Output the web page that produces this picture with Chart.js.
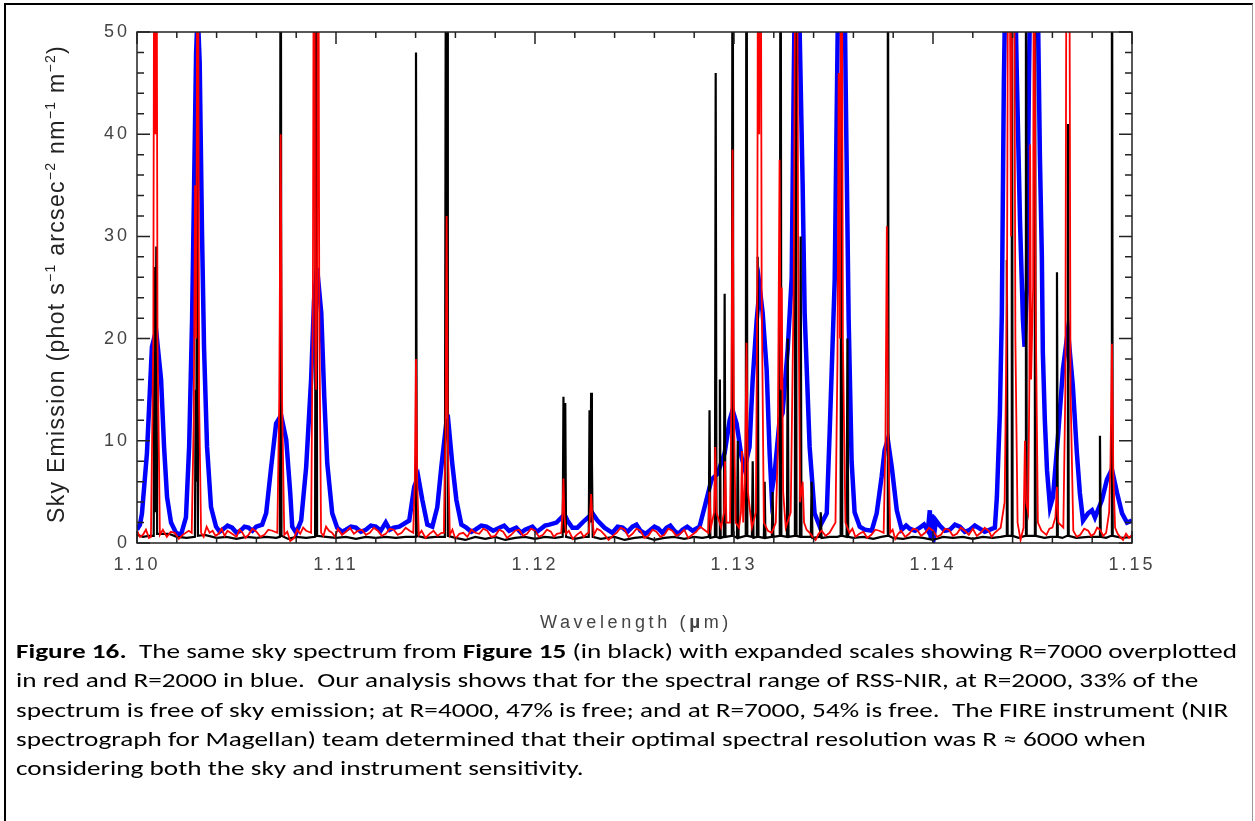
<!DOCTYPE html>
<html><head><meta charset="utf-8">
<script src="https://cdn.jsdelivr.net/npm/chart.js@4.4.1/dist/chart.umd.min.js"></script>
<style>
html,body{margin:0;padding:0;background:#fff;width:1255px;height:821px;overflow:hidden;position:relative}
#c{position:absolute;left:0;top:0}
#frame{position:absolute;left:4px;top:3px;width:1249px;height:840px;border-top:2px solid #000;border-left:2px solid #000;border-right:1px solid #999;box-sizing:border-box;pointer-events:none}
.cap{position:absolute;left:16px;white-space:pre;font-family:Carlito,Calibri,Lato,sans-serif;font-size:21px;line-height:21px;color:#000;transform-origin:0 0}
.cap b{font-weight:700}
</style></head><body>
<canvas id="c" width="1255" height="821"></canvas>
<div id="frame"></div>
<div class="cap" style="top:641px"><b>Figure 16.</b>  The same sky spectrum from <b>Figure 15</b> (in black) with expanded scales showing R=7000 overplotted</div>
<div class="cap" style="top:670px">in red and R=2000 in blue.  Our analysis shows that for the spectral range of RSS-NIR, at R=2000, 33% of the</div>
<div class="cap" style="top:700px">spectrum is free of sky emission; at R=4000, 47% is free; and at R=7000, 54% is free.  The FIRE instrument (NIR</div>
<div class="cap" style="top:729px">spectrograph for Magellan) team determined that their optimal spectral resolution was R ≈ 6000 when</div>
<div class="cap" style="top:758px">considering both the sky and instrument sensitivity.</div>
<script>
// ---------- tick labels ----------
const xTickValues = [1.10, 1.11, 1.12, 1.13, 1.14, 1.15];
const xTickLabels = ['1.10', '1.11', '1.12', '1.13', '1.14', '1.15'];
const xMinorTicks = [1.102,1.104,1.106,1.108,1.112,1.114,1.116,1.118,1.122,1.124,1.126,1.128,1.132,1.134,1.136,1.138,1.142,1.144,1.146,1.148];
const yTickValues = [0, 10, 20, 30, 40, 50];
const yTickLabels = ['0', '10', '20', '30', '40', '50'];
const yMinorTicks = [2,4,6,8,12,14,16,18,22,24,26,28,32,34,36,38,42,44,46,48];

// ---------- series: [wavelength (um), sky emission] ----------
// original sky spectrum (black)
const skyBlack = [
[1.10000,0.8],[1.10030,0.6],[1.10060,0.7],
[1.10084,0.7],[1.10088,27],[1.10092,3],[1.10097,29],[1.10101,0.9],
[1.10130,0.9],[1.10160,0.9],[1.10200,0.6],[1.10250,0.5],
[1.10291,0.6],[1.10295,15],[1.10298,6],[1.10302,43],[1.10306,0.7],
[1.10340,0.8],[1.10400,0.5],[1.10450,0.6],[1.10500,0.4],[1.10550,0.6],[1.10600,0.5],[1.10650,0.6],[1.10700,0.5],
[1.10718,0.6],[1.10722,80],[1.10726,0.7],
[1.10760,0.4],[1.10800,0.6],[1.10850,0.5],
[1.10895,0.6],[1.10900,80],[1.10905,0.7],
[1.10950,0.6],[1.11000,0.5],[1.11050,0.6],[1.11100,0.4],[1.11150,0.6],[1.11200,0.5],[1.11250,0.6],[1.11300,0.5],[1.11350,0.6],
[1.11398,0.6],[1.11402,48],[1.11406,0.7],
[1.11450,0.5],[1.11500,0.6],
[1.11547,0.6],[1.11551,48],[1.11554,80],[1.11558,80],[1.11562,0.7],
[1.11600,0.5],[1.11650,0.3],[1.11700,0.6],[1.11750,0.4],[1.11800,0.6],[1.11850,0.3],[1.11900,0.5],[1.11950,0.6],[1.12000,0.4],[1.12050,0.6],[1.12100,0.5],
[1.12139,0.6],[1.12143,14.3],[1.12147,1],[1.12152,13.7],[1.12156,0.6],
[1.12200,0.4],[1.12250,0.6],
[1.12270,0.6],[1.12274,13],[1.12278,2],[1.12282,14.7],[1.12286,8],[1.12290,0.6],
[1.12330,0.4],[1.12400,0.6],[1.12450,0.3],[1.12500,0.5],[1.12550,0.6],[1.12600,0.3],[1.12650,0.5],[1.12700,0.6],[1.12750,0.4],[1.12800,0.6],[1.12840,0.5],
[1.12873,0.6],[1.12877,13],[1.12881,0.5],
[1.12904,0.6],[1.12908,46],[1.12912,0.6],
[1.12925,0.5],[1.12929,16],[1.12933,0.5],
[1.12949,0.6],[1.12953,24.4],[1.12957,0.6],
[1.12989,0.7],[1.12993,80],[1.12997,0.7],
[1.13015,0.5],[1.13019,10],[1.13023,0.5],
[1.13059,0.7],[1.13063,80],[1.13067,0.7],
[1.13090,0.6],[1.13094,8],[1.13098,0.5],
[1.13115,0.6],[1.13119,28],[1.13123,0.6],
[1.13150,0.5],[1.13154,6],[1.13158,0.5],
[1.13190,0.6],[1.13194,5],[1.13198,0.6],
[1.13230,0.7],[1.13234,80],[1.13238,0.7],
[1.13266,0.6],[1.13270,20],[1.13274,0.6],
[1.13306,0.7],[1.13310,80],[1.13314,0.7],
[1.13331,0.6],[1.13335,30],[1.13339,0.6],
[1.13386,0.6],[1.13390,6],[1.13394,0.5],
[1.13432,0.6],[1.13436,3],[1.13440,0.5],
[1.13480,0.6],[1.13520,0.6],
[1.13536,0.7],[1.13540,80],[1.13544,0.7],
[1.13566,0.6],[1.13570,20],[1.13574,0.6],
[1.13600,0.5],[1.13650,0.6],[1.13700,0.4],[1.13740,0.6],
[1.13769,0.7],[1.13773,80],[1.13777,0.7],
[1.13800,0.5],[1.13850,0.4],[1.13900,0.6],[1.13950,0.5],[1.14000,0.3],[1.14050,0.6],[1.14100,0.5],[1.14150,0.6],[1.14200,0.4],[1.14250,0.6],[1.14300,0.5],[1.14340,0.6],
[1.14367,0.7],[1.14371,27.7],[1.14375,0.7],
[1.14392,0.7],[1.14396,80],[1.14400,0.7],
[1.14430,0.5],
[1.14463,0.7],[1.14467,80],[1.14471,0.7],
[1.14508,0.7],[1.14512,80],[1.14516,0.7],
[1.14560,0.5],[1.14590,0.6],
[1.14619,0.6],[1.14623,26.5],[1.14627,0.6],
[1.14650,0.5],
[1.14674,0.7],[1.14678,41],[1.14682,0.7],
[1.14720,0.5],[1.14780,0.6],
[1.14835,0.6],[1.14839,10.5],[1.14843,0.6],
[1.14870,0.5],
[1.14895,0.7],[1.14899,80],[1.14903,0.7],
[1.14950,0.5],[1.15000,0.6]
];

// R=7000 (red)
const r7000 = [
[1.10000,1.2],[1.10015,0.6],[1.10030,0.8],[1.10045,1.3],[1.10060,0.5],
[1.10070,0.6],[1.10082,20],[1.10088,80],[1.10092,40],[1.10097,80],[1.10103,20],[1.10115,0.8],
[1.10130,1.3],[1.10150,0.6],[1.10170,1.1],[1.10190,1.0],[1.10210,0.4],[1.10230,0.8],[1.10260,1.2],
[1.10275,1.0],[1.10285,12],[1.10292,35],[1.10298,20],[1.10305,80],[1.10312,14],[1.10322,1.0],
[1.10335,0.6],[1.10350,1.6],[1.10365,1.0],[1.10380,1.2],[1.10395,0.7],[1.10410,0.9],[1.10425,1.4],[1.10440,0.7],[1.10455,1.2],[1.10470,1.0],[1.10485,0.8],[1.10500,0.6],[1.10515,1.3],[1.10530,1.0],[1.10545,0.5],[1.10560,0.8],[1.10580,1.4],[1.10600,1.1],[1.10620,0.6],[1.10640,0.8],[1.10660,1.3],[1.10680,1.2],
[1.10705,1.0],[1.10715,14],[1.10722,40],[1.10729,14],[1.10740,0.8],
[1.10755,1.1],[1.10770,0.2],[1.10790,0.5],[1.10805,1.3],[1.10820,0.9],[1.10835,1.5],[1.10850,1.2],
[1.10875,1.0],[1.10884,25],[1.10890,80],[1.10896,20],[1.10900,15],[1.10905,25],[1.10910,80],[1.10916,22],[1.10925,1.0],
[1.10937,0.7],[1.10950,1.6],[1.10965,1.2],[1.10980,1.0],[1.10995,0.6],[1.11010,1.4],[1.11030,0.8],[1.11050,1.1],[1.11070,1.5],[1.11090,0.9],[1.11110,1.2],[1.11130,1.3],[1.11150,0.8],[1.11170,1.0],[1.11190,1.5],[1.11210,1.2],[1.11230,0.7],[1.11250,0.9],[1.11270,1.4],[1.11290,1.3],[1.11310,0.8],[1.11330,1.0],[1.11350,1.5],[1.11370,1.2],
[1.11388,1.0],[1.11396,6],[1.11402,18],[1.11408,6],[1.11416,0.8],
[1.11430,1.2],[1.11450,0.5],[1.11470,0.9],[1.11490,1.2],[1.11510,0.7],[1.11530,1.0],
[1.11542,1.0],[1.11550,10],[1.11556,32],[1.11562,10],[1.11572,0.8],
[1.11585,1.3],[1.11600,0.4],[1.11620,0.9],[1.11640,1.0],[1.11660,0.6],[1.11680,1.3],[1.11700,1.0],[1.11720,0.9],[1.11740,1.4],[1.11760,1.2],[1.11780,0.6],[1.11800,0.7],[1.11820,1.3],[1.11840,1.1],[1.11860,0.5],[1.11880,0.8],[1.11900,1.2],[1.11920,1.3],[1.11940,0.7],[1.11960,0.9],[1.11980,1.4],[1.12000,1.2],[1.12020,0.6],[1.12040,0.8],[1.12060,1.3],[1.12080,1.1],[1.12095,0.6],[1.12110,0.9],
[1.12132,1.0],[1.12138,3],[1.12143,6.3],[1.12148,2.5],[1.12156,0.9],
[1.12170,1.2],[1.12190,0.4],[1.12210,0.8],[1.12230,1.1],[1.12245,0.6],[1.12260,0.9],
[1.12270,1.0],[1.12276,2.5],[1.12282,4.8],[1.12288,2.5],[1.12296,0.8],
[1.12312,1.4],[1.12330,1.2],[1.12350,0.8],[1.12370,0.3],[1.12390,0.7],[1.12410,1.0],[1.12430,1.5],[1.12450,1.3],[1.12470,0.6],[1.12490,0.9],[1.12510,1.4],[1.12530,1.2],[1.12550,0.5],[1.12570,0.7],[1.12590,1.3],[1.12610,1.1],[1.12630,0.6],[1.12650,0.8],[1.12670,1.4],[1.12690,1.2],[1.12710,0.7],[1.12730,0.9],[1.12750,1.3],[1.12770,0.5],[1.12790,0.8],[1.12810,1.1],[1.12830,1.6],[1.12850,1.3],
[1.12870,1.0],[1.12877,5],[1.12884,1.5],[1.12900,3],[1.12906,9.4],[1.12912,3],[1.12935,1.5],[1.12950,3],[1.12955,8],[1.12962,2],
[1.12980,2],[1.12987,14],[1.12993,38.5],[1.12999,14],[1.13008,2],[1.13025,1.5],[1.13035,3],[1.13040,9],[1.13046,2],
[1.13055,6],[1.13063,19.6],[1.13070,5],[1.13090,1.5],[1.13110,3],[1.13117,25],[1.13122,80],[1.13127,40],[1.13133,80],[1.13139,25],[1.13150,2],
[1.13170,1.2],[1.13190,1.0],[1.13210,2],[1.13220,9],[1.13229,37.5],[1.13235,15],[1.13240,25],[1.13247,5],[1.13260,1.5],
[1.13285,3],[1.13300,25],[1.13308,60],[1.13315,80],[1.13322,30],[1.13332,4],[1.13345,6],[1.13352,2],[1.13365,1.3],[1.13380,1.0],[1.13395,0.6],[1.13410,0.3],[1.13425,0.9],[1.13440,1.2],[1.13460,0.7],[1.13480,1.0],
[1.13510,2],[1.13520,18],[1.13526,46],[1.13532,20],[1.13540,80],[1.13547,20],[1.13560,2],[1.13580,1.0],[1.13595,1.4],[1.13610,0.6],[1.13630,0.9],[1.13650,1.1],[1.13670,0.5],[1.13690,0.8],[1.13710,1.3],[1.13730,1.2],
[1.13752,1.0],[1.13761,10],[1.13768,31],[1.13775,10],[1.13785,1.0],
[1.13797,1.3],[1.13810,0.4],[1.13825,0.9],[1.13840,1.2],[1.13860,0.6],[1.13880,0.9],[1.13900,1.4],[1.13920,1.3],[1.13940,0.7],[1.13960,1.0],[1.13980,1.5],[1.14000,1.2],[1.14020,0.6],[1.14040,0.8],[1.14060,1.4],[1.14080,1.3],[1.14100,0.7],[1.14120,0.9],[1.14140,1.5],[1.14160,1.2],[1.14180,0.8],[1.14200,1.4],[1.14220,0.7],[1.14240,1.0],[1.14260,1.5],[1.14280,1.2],[1.14295,0.6],[1.14310,1.0],
[1.14340,1.5],[1.14360,4],[1.14372,25],[1.14380,80],[1.14392,30],[1.14405,80],[1.14414,20],[1.14425,2],[1.14440,0.3],[1.14455,1.5],[1.14462,10],[1.14468,4],
[1.14478,3],[1.14484,15],[1.14488,39],[1.14493,16],[1.14503,25],[1.14508,80],[1.14515,25],[1.14527,2],[1.14545,1.2],[1.14570,0.8],[1.14585,1.4],[1.14600,1.5],
[1.14615,2.5],[1.14623,5.5],[1.14630,2],[1.14655,1.5],[1.14665,15],[1.14673,80],[1.14683,80],[1.14691,15],[1.14705,1.2],
[1.14722,0.6],[1.14740,0.8],[1.14760,1.4],[1.14780,1.2],[1.14795,0.7],[1.14810,0.9],[1.14825,1.5],[1.14840,1.3],[1.14855,0.7],[1.14870,1.0],
[1.14885,3],[1.14892,8],[1.14899,19.5],[1.14906,7],[1.14915,1.5],[1.14928,0.9],[1.14940,0.6],[1.14955,0.3],[1.14970,0.9],[1.14985,0.5],[1.15000,0.8]
];

// R=2000 (blue)
const r2000 = [
[1.10000,1.3],[1.10015,1.8],[1.10025,2.9],[1.10050,8.8],[1.10075,19.2],[1.10096,20.8],[1.10121,16],[1.10136,9.4],[1.10151,4.5],[1.10171,2.0],[1.10196,1.0],[1.10221,0.8],
[1.10246,2.5],[1.10262,9.4],[1.10277,22],[1.10287,35],[1.10297,48],[1.10305,52],[1.10315,47],[1.10327,30],[1.10337,19],[1.10352,9.4],[1.10372,3.5],[1.10397,1.6],
[1.10415,1.1],[1.10430,1.3],[1.10455,1.7],[1.10478,1.5],[1.10500,1.0],[1.10520,1.2],[1.10540,1.6],[1.10560,1.5],[1.10580,1.2],[1.10599,1.6],[1.10629,1.8],
[1.10649,2.9],[1.10674,7.4],[1.10699,11.7],[1.10724,12.5],[1.10750,10.1],[1.10770,4.9],[1.10780,1.6],[1.10800,1.0],
[1.10825,2.2],[1.10850,7.4],[1.10875,16],[1.10890,23.8],[1.10905,26.9],[1.10926,22.5],[1.10941,14.3],[1.10956,7.8],[1.10981,2.9],[1.11006,1.5],
[1.11030,1.1],[1.11050,1.3],[1.11075,1.6],[1.11100,1.5],[1.11125,1.1],[1.11150,1.3],[1.11175,1.7],[1.11200,1.6],[1.11225,1.2],[1.11250,2.0],[1.11270,1.3],[1.11290,1.5],[1.11318,1.6],
[1.11368,2.2],[1.11393,5.5],[1.11413,6.5],[1.11434,4.2],[1.11459,1.8],[1.11484,1.6],
[1.11509,3.5],[1.11529,7.4],[1.11554,11.7],[1.11564,12],[1.11584,7.8],[1.11605,4.2],[1.11630,1.8],[1.11655,1.5],
[1.11680,1.1],[1.11700,1.3],[1.11730,1.7],[1.11756,1.6],[1.11790,1.2],[1.11821,1.5],[1.11845,1.7],[1.11870,1.2],[1.11906,1.5],[1.11930,1.0],[1.11950,1.3],[1.11987,1.6],[1.12010,1.1],[1.12030,1.4],[1.12050,1.7],[1.12072,1.8],
[1.12108,2.0],[1.12133,2.5],[1.12148,2.8],[1.12163,2.2],[1.12188,1.5],[1.12213,1.5],[1.12249,2.2],[1.12289,2.9],[1.12314,2.2],[1.12349,1.5],[1.12389,1.0],
[1.12415,1.6],[1.12440,1.5],[1.12465,1.1],[1.12490,1.6],[1.12510,1.8],[1.12530,1.2],[1.12555,0.9],[1.12575,1.2],[1.12600,1.6],[1.12620,1.4],[1.12640,1.0],[1.12661,1.5],[1.12680,1.7],[1.12700,1.2],[1.12720,0.9],[1.12741,1.3],[1.12765,1.6],[1.12792,1.2],[1.12827,1.6],
[1.12852,3.5],[1.12887,6.2],[1.12918,6.8],[1.12953,8.8],[1.12978,12],[1.12993,13],[1.13013,11.7],[1.13038,8.4],[1.13053,7.3],
[1.13078,9.4],[1.13094,16],[1.13114,21.8],[1.13129,25],[1.13144,22.5],[1.13164,17],[1.13179,8.8],[1.13189,4.9],
[1.13204,6.8],[1.13229,12],[1.13244,12.7],[1.13270,19],[1.13290,26],[1.13300,45],[1.13315,68],[1.13330,50],[1.13345,35],[1.13355,22.5],[1.13380,9.4],[1.13405,2.9],[1.13431,1.6],
[1.13466,2.9],[1.13481,11],[1.13506,25.7],[1.13521,50],[1.13541,80],[1.13561,45],[1.13576,22],[1.13591,8],[1.13606,3],[1.13632,1.6],[1.13657,1.3],[1.13692,1.2],
[1.13717,2.9],[1.13742,6.5],[1.13757,9.1],[1.13773,10.1],[1.13793,7.4],[1.13818,3.2],[1.13843,1.3],
[1.13865,1.7],[1.13883,1.4],[1.13910,1.2],[1.13934,1.5],[1.13955,1.8],[1.13974,1.2],[1.13984,3.2],[1.13989,0.3],[1.13994,2.8],[1.14004,0.6],[1.14015,2.2],[1.14034,1.7],[1.14060,1.2],[1.14085,1.3],[1.14110,1.8],[1.14135,1.6],[1.14160,1.1],[1.14185,1.3],[1.14210,1.7],[1.14235,1.4],[1.14260,1.1],[1.14286,1.3],[1.14311,1.5],
[1.14321,4.5],[1.14336,12.7],[1.14346,22.5],[1.14356,45],[1.14376,70],[1.14402,65],[1.14422,45],[1.14437,31.6],[1.14452,21.8],[1.14460,19.2],
[1.14472,25],[1.14482,45],[1.14502,75],[1.14522,60],[1.14537,38],[1.14547,28],[1.14552,18.6],[1.14562,12],[1.14573,7.1],[1.14588,3.5],
[1.14603,4.5],[1.14628,10.4],[1.14653,17],[1.14678,20.8],[1.14703,15.3],[1.14723,8.8],[1.14738,4.9],[1.14754,2.2],
[1.14779,2.9],[1.14799,3.2],[1.14814,2.5],[1.14849,4.2],[1.14874,6.2],[1.14899,7.2],[1.14925,4.9],[1.14950,2.9],[1.14975,2.0],[1.15000,2.2]
];

const toXY = a => a.map(p => ({x: p[0], y: p[1]}));
const TICK_FONT = {family: "'Liberation Sans', Arial, Helvetica, sans-serif", size: 18};

function drawSegments(ctx, segs, target, y0) {
  let natural = 0, n = 0;
  ctx.letterSpacing = '0px';
  for (const s of segs) { ctx.font = s.font; s.w = ctx.measureText(s.t).width; natural += s.w; n += [...s.t].length; }
  const hasLS = ('letterSpacing' in ctx);
  let ls = hasLS ? (target - natural) / n : 0;
  let scale = 1;
  if (!hasLS || ls < 0) { ls = 0; scale = target / natural; }
  ctx.save();
  ctx.scale(scale, 1);
  let cx = 0;
  for (const s of segs) {
    ctx.font = s.font;
    if (hasLS) ctx.letterSpacing = ls + 'px';
    ctx.fillText(s.t, cx, y0 + (s.dy || 0));
    cx += s.w + ls * [...s.t].length;
  }
  ctx.restore();
  if (hasLS) ctx.letterSpacing = '0px';
}

const framePlugin = {
  id: 'framePlugin',
  beforeDraw(chart) { if ('letterSpacing' in chart.ctx) chart.ctx.letterSpacing = '3px'; },
  afterDatasetsDraw(chart) {
    const {ctx, chartArea: a, scales: {x, y}} = chart;
    ctx.save();
    ctx.strokeStyle = '#222';
    ctx.lineWidth = 1.5;
    ctx.strokeRect(a.left, a.top, a.right - a.left, a.bottom - a.top);
    ctx.beginPath();
    const xt = (vals, len) => { for (const v of vals) { const px = x.getPixelForValue(v); ctx.moveTo(px, a.bottom); ctx.lineTo(px, a.bottom - len); ctx.moveTo(px, a.top); ctx.lineTo(px, a.top + len); } };
    const yt = (vals, len) => { for (const v of vals) { const py = y.getPixelForValue(v); ctx.moveTo(a.left, py); ctx.lineTo(a.left + len, py); ctx.moveTo(a.right, py); ctx.lineTo(a.right - len, py); } };
    xt(xTickValues, 12); xt(xMinorTicks, 6);
    yt(yTickValues, 13); yt(yMinorTicks, 7);
    ctx.stroke();
    ctx.restore();
  },
  afterDraw(chart) {
    const ctx = chart.ctx;
    if ('letterSpacing' in ctx) ctx.letterSpacing = '0px';
    const F = "'Liberation Sans', Arial, sans-serif";
    // x-axis title
    ctx.save();
    ctx.fillStyle = '#444';
    ctx.textBaseline = 'alphabetic';
    ctx.textAlign = 'left';
    ctx.translate(540, 628);
    drawSegments(ctx, [
      {t: 'Wavelength (', font: '18px ' + F},
      {t: 'µ', font: 'bold 19px ' + F},
      {t: 'm)', font: '18px ' + F}
    ], 192, 0);
    ctx.restore();
    // y-axis title
    ctx.save();
    ctx.fillStyle = '#222';
    ctx.textBaseline = 'alphabetic';
    ctx.textAlign = 'left';
    ctx.translate(64, 523);
    ctx.rotate(-Math.PI / 2);
    const m = '23px ' + F, s = '14px ' + F;
    drawSegments(ctx, [
      {t: 'Sky Emission (phot s', font: m},
      {t: '\u22121', font: s, dy: -9},
      {t: ' arcsec', font: m},
      {t: '\u22122', font: s, dy: -9},
      {t: ' nm', font: m},
      {t: '\u22121', font: s, dy: -9},
      {t: ' m', font: m},
      {t: '\u22122', font: s, dy: -9},
      {t: ')', font: m}
    ], 478, 0);
    ctx.restore();
  }
};

new Chart(document.getElementById('c'), {
  type: 'line',
  data: {
    datasets: [
      {label: 'R=7000', data: toXY(r7000), borderColor: '#ff0000', borderWidth: 1.8, pointRadius: 0, tension: 0, clip: 0},
      {label: 'Sky spectrum', data: toXY(skyBlack), borderColor: '#000000', borderWidth: 2.2, pointRadius: 0, tension: 0, clip: 0},
      {label: 'R=2000', data: toXY(r2000), borderColor: '#0000ff', borderWidth: 4.5, pointRadius: 0, tension: 0, clip: 0}
    ]
  },
  options: {
    responsive: false,
    animation: false,
    devicePixelRatio: 1,
    events: [],
    layout: {padding: {left: 0, top: 32, right: 123, bottom: 0}},
    plugins: {legend: {display: false}, tooltip: {enabled: false}, title: {display: false}},
    scales: {
      x: {
        type: 'linear', position: 'bottom', min: 1.10, max: 1.15,
        afterBuildTicks: sc => { sc.ticks = xTickValues.map(v => ({value: v})); },
        afterFit: sc => { sc.height = 278; },
        grid: {display: false, drawTicks: false},
        border: {display: false},
        ticks: {callback: (v, i) => xTickLabels[i], color: '#444', font: TICK_FONT, padding: 11, maxRotation: 0, autoSkip: false}
      },
      y: {
        type: 'linear', position: 'left', min: 0, max: 50,
        afterBuildTicks: sc => { sc.ticks = yTickValues.map(v => ({value: v})); },
        afterFit: sc => { sc.width = 137; },
        grid: {display: false, drawTicks: false},
        border: {display: false},
        ticks: {callback: (v, i) => yTickLabels[i], color: '#444', font: TICK_FONT, padding: 7}
      }
    }
  },
  plugins: [framePlugin]
});

// caption: common horizontal fit so the first line spans the measured width
(function () {
  const lines = document.querySelectorAll('.cap');
  const w = lines[0].getBoundingClientRect().width;
  const k = 1221 / w;
  lines.forEach(l => { l.style.transform = 'scaleX(' + k + ')'; });
})();
</script>
</body></html>
